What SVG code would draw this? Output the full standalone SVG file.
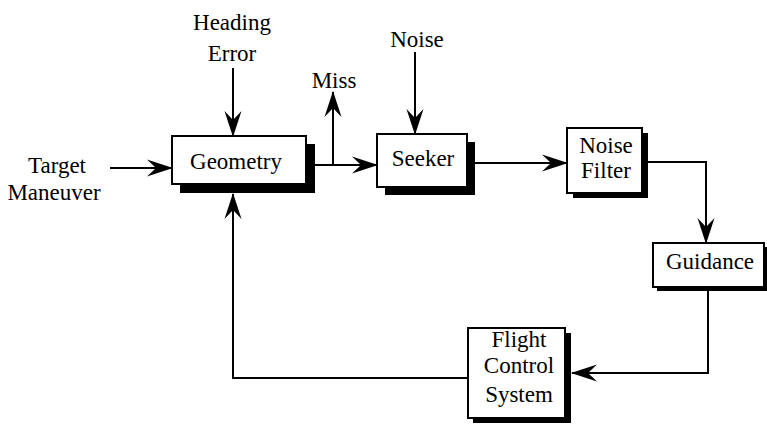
<svg xmlns="http://www.w3.org/2000/svg" width="767" height="425" viewBox="0 0 767 425">
<style>
text{font-family:"Liberation Serif","Times New Roman","DejaVu Serif",serif;font-size:23px;fill:#000;text-anchor:middle}
.box{fill:#fff;stroke:#000;stroke-width:2}
.sh{fill:#000}
.c{fill:none;stroke:#000;stroke-width:2}
</style>
<defs>
<marker id="ah" viewBox="-26 -10 28 20" refX="0" refY="0" markerWidth="28" markerHeight="20" markerUnits="userSpaceOnUse" orient="auto">
<path d="M1,0 L-25,-8.5 L-16,0 L-25,8.5 Z" fill="#000"/>
</marker>
</defs>
<rect width="767" height="425" fill="#fff"/>
<g id="connectors">
<path class="c" d="M110,168 L172,168" marker-end="url(#ah)"/>
<path class="c" d="M233,68 L233,136" marker-end="url(#ah)"/>
<path class="c" d="M315,165 L377,165" marker-end="url(#ah)"/>
<path class="c" d="M333,165 L333,92" marker-end="url(#ah)"/>
<path class="c" d="M415,52 L415,134" marker-end="url(#ah)"/>
<path class="c" d="M475,163 L567,163" marker-end="url(#ah)"/>
<path class="c" d="M648,162 L706,162 L706,243" marker-end="url(#ah)"/>
<path class="c" d="M708,290 L708,373 L572,373" marker-end="url(#ah)"/>
<path class="c" d="M468,378 L233,378 L233,194" marker-end="url(#ah)"/>
</g>
<g id="labels">
<text x="57" y="173">Target</text>
<text x="54" y="200">Maneuver</text>
<text x="232" y="30">Heading</text>
<text x="232" y="61">Error</text>
<text x="334" y="88">Miss</text>
<text x="417" y="47">Noise</text>
</g>
<g id="geometry">
<rect class="sh" x="180" y="144" width="135" height="49"/>
<rect class="box" x="172" y="136" width="134" height="48"/>
<text x="236" y="169">Geometry</text>
</g>
<g id="seeker">
<rect class="sh" x="385" y="142" width="90" height="53"/>
<rect class="box" x="377" y="134" width="90" height="53"/>
<text x="423" y="166">Seeker</text>
</g>
<g id="noise-filter">
<rect class="sh" x="573" y="133" width="75" height="65"/>
<rect class="box" x="567" y="128" width="75" height="65"/>
<text x="606" y="153">Noise</text>
<text x="606" y="178">Filter</text>
</g>
<g id="guidance">
<rect class="sh" x="657" y="247" width="110" height="44"/>
<rect class="box" x="653" y="243" width="111" height="44"/>
<text x="710" y="269">Guidance</text>
</g>
<g id="flight-control-system">
<rect class="sh" x="473" y="333" width="98" height="90"/>
<rect class="box" x="468" y="328" width="97" height="90"/>
<text x="519" y="347">Flight</text>
<text x="519" y="373">Control</text>
<text x="519" y="402">System</text>
</g>
</svg>
